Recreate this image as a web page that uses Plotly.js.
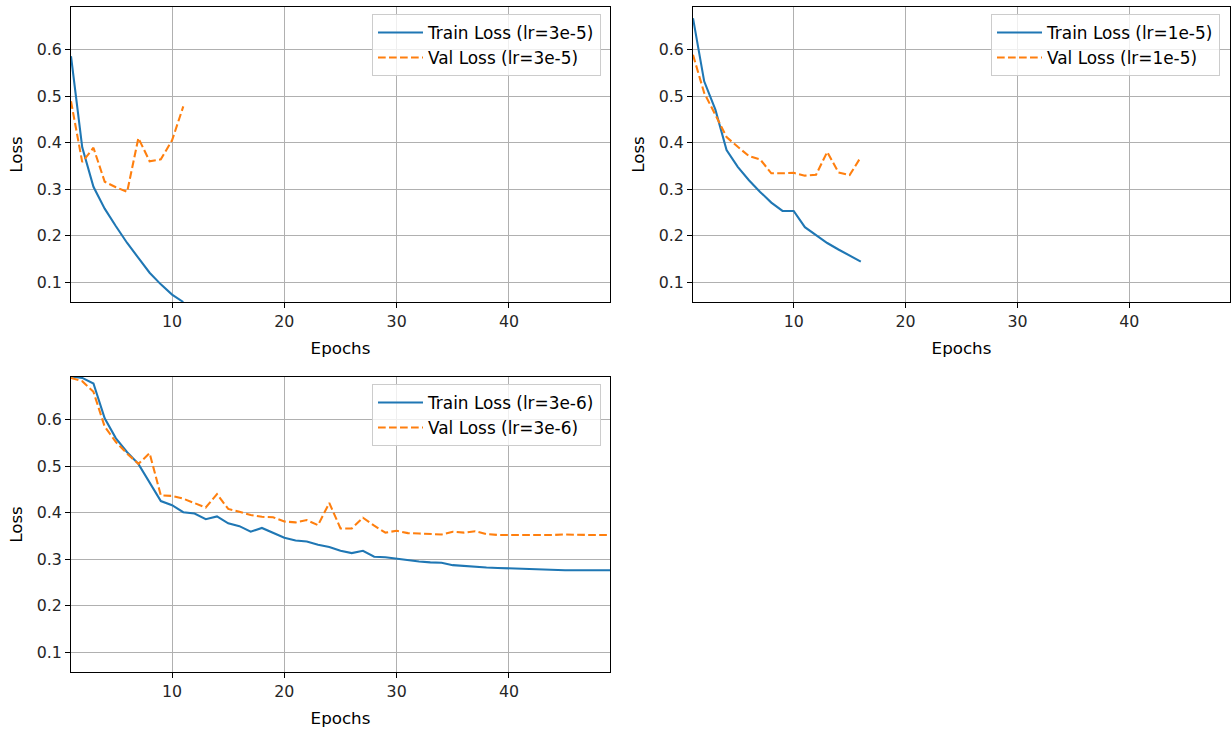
<!DOCTYPE html>
<html>
<head>
<meta charset="utf-8">
<script src="https://cdn.plot.ly/plotly-3.0.1.min.js"></script>
<style>
html,body{margin:0;padding:0;background:#fff;}
#chart{width:1231px;height:730px;}
</style>
</head>
<body>
<div id="chart"></div>
<script>
// ---- data ----
const epochsA = [1,2,3,4,5,6,7,8,9,10,11];
const trainA = [0.586,0.390,0.305,0.258,0.220,0.184,0.152,0.120,0.095,0.073,0.057];
const valA   = [0.489,0.358,0.389,0.316,0.304,0.294,0.410,0.360,0.364,0.405,0.478];

const epochsB = [1,2,3,4,5,6,7,8,9,10,11,12,13,14,15,16];
const trainB = [0.668,0.532,0.471,0.384,0.348,0.319,0.294,0.271,0.253,0.253,0.218,0.201,0.184,0.170,0.157,0.144];
const valB   = [0.589,0.507,0.460,0.412,0.391,0.371,0.364,0.334,0.334,0.335,0.329,0.331,0.380,0.336,0.330,0.369];

const epochsC = [1,2,3,4,5,6,7,8,9,10,11,12,13,14,15,16,17,18,19,20,21,22,23,24,25,26,27,28,29,30,31,32,33,34,35,36,37,38,39,40,41,42,43,44,45,46,47,48,49];
const trainC = [0.693,0.690,0.678,0.603,0.560,0.530,0.505,0.465,0.425,0.416,0.401,0.398,0.386,0.392,0.377,0.371,0.359,0.367,0.357,0.346,0.340,0.338,0.331,0.326,0.318,0.313,0.318,0.305,0.304,0.301,0.297,0.295,0.293,0.292,0.287,0.285,0.284,0.282,0.281,0.280,0.279,0.278,0.277,0.277,0.276,0.276,0.276,0.276,0.276];
const valC   = [0.690,0.683,0.660,0.585,0.552,0.527,0.505,0.528,0.437,0.436,0.430,0.420,0.411,0.440,0.408,0.402,0.395,0.391,0.390,0.381,0.379,0.384,0.373,0.421,0.366,0.366,0.389,0.372,0.357,0.361,0.356,0.355,0.354,0.353,0.359,0.357,0.360,0.354,0.352,0.352,0.351,0.351,0.351,0.352,0.353,0.352,0.352,0.352,0.352];

const lrLabels = ['3e-5','1e-5','3e-6'];
const xTicks = [10,20,30,40];
const yTicks = [0.1,0.2,0.3,0.4,0.5,0.6];

// ---- styling ----
const FONT = 'DejaVu Sans, sans-serif';
const FS_TICK = 15.8, FS_TITLE = 16.7, FS_LEG = 16.9;
const BLUE = '#1f77b4', ORANGE = '#ff7f0e';
const LW = 2.08;

function pair(x, tr, va, lr, xa, ya, leg) {
  return [
    {x: x, y: tr, type: 'scatter', mode: 'lines', name: 'Train Loss (lr=' + lr + ')',
     line: {color: BLUE, width: LW}, xaxis: xa, yaxis: ya, legend: leg},
    {x: x, y: va, type: 'scatter', mode: 'lines', name: 'Val Loss (lr=' + lr + ')',
     line: {color: ORANGE, width: LW, dash: '7.7px,3.3px'}, xaxis: xa, yaxis: ya, legend: leg}
  ];
}

const data = [].concat(
  pair(epochsA, trainA, valA, lrLabels[0], 'x', 'y', 'legend'),
  pair(epochsB, trainB, valB, lrLabels[1], 'x2', 'y2', 'legend2'),
  pair(epochsC, trainC, valC, lrLabels[2], 'x3', 'y3', 'legend3')
);

function xax(domain, anchor) {
  return {
    domain: domain, anchor: anchor, range: [1, 49],
    tickvals: xTicks, ticks: 'outside', ticklen: 5, tickwidth: 1.1, tickcolor: '#000',
    showline: true, mirror: true, linecolor: '#000', linewidth: 1.1,
    showgrid: true, gridcolor: '#b0b0b0', gridwidth: 1.1, zeroline: false,
    tickfont: {family: FONT, size: FS_TICK, color: '#262626'},
    title: {text: 'Epochs', font: {family: FONT, size: FS_TITLE, color: '#000'}, standoff: 12},
    automargin: true
  };
}
function yax(domain, anchor) {
  return {
    domain: domain, anchor: anchor, range: [0.057, 0.692],
    tickvals: yTicks, ticktext: yTicks.map(v => v.toFixed(1)),
    ticks: 'outside', ticklen: 5, tickwidth: 1.1, tickcolor: '#000',
    showline: true, mirror: true, linecolor: '#000', linewidth: 1.1,
    showgrid: true, gridcolor: '#b0b0b0', gridwidth: 1.1, zeroline: false,
    tickfont: {family: FONT, size: FS_TICK, color: '#262626'},
    title: {text: 'Loss', font: {family: FONT, size: FS_TITLE, color: '#000'}, standoff: 9},
    automargin: true
  };
}
function leg(x, y) {
  return {x: x, y: y, xanchor: 'right', yanchor: 'top', itemwidth: 45,
          bgcolor: 'rgba(255,255,255,0.8)', bordercolor: '#cccccc', borderwidth: 1,
          font: {family: FONT, size: FS_LEG, color: '#000'}};
}

const W = 1231, H = 730;
const layout = {
  width: W, height: H,
  margin: {l: 0, r: 0, t: 0, b: 0},
  paper_bgcolor: '#fff', plot_bgcolor: '#fff',
  showlegend: true,
  font: {family: FONT},
  xaxis:  xax([71/W, 610/W], 'y'),
  yaxis:  yax([1-302/H, 1-7/H], 'x'),
  xaxis2: xax([693/W, 1230/W], 'y2'),
  yaxis2: yax([1-302/H, 1-7/H], 'x2'),
  xaxis3: xax([71/W, 610/W], 'y3'),
  yaxis3: yax([1-672/H, 1-377/H], 'x3'),
  legend:  leg(601/W, 1-14/H),
  legend2: leg(1220/W, 1-14/H),
  legend3: leg(601/W, 1-384/H)
};

Plotly.newPlot('chart', data, layout, {displayModeBar: false, responsive: false});
</script>
</body>
</html>
